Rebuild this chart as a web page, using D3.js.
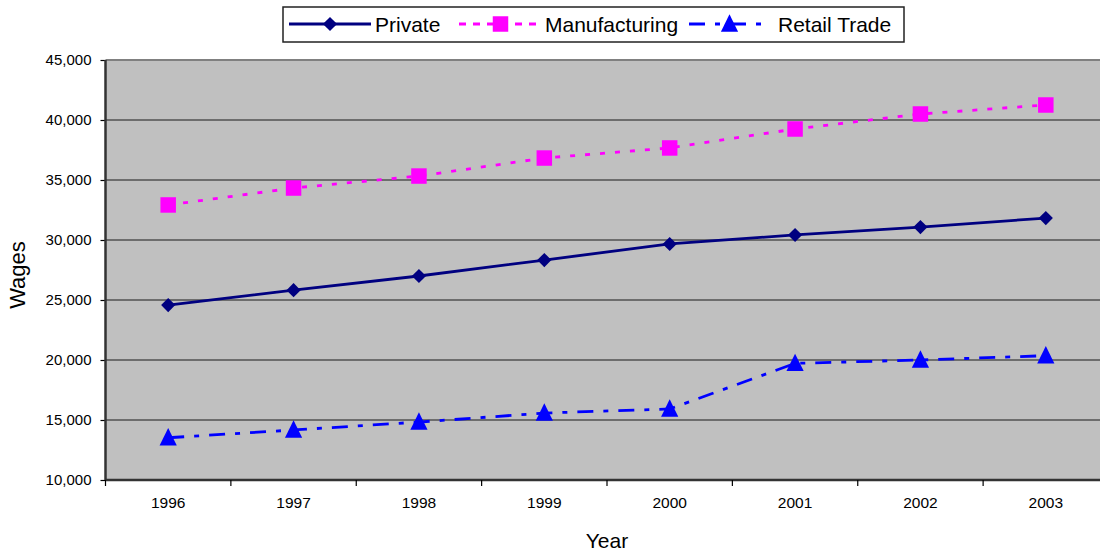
<!DOCTYPE html>
<html>
<head>
<meta charset="utf-8">
<script src="https://cdn.jsdelivr.net/npm/d3@7"></script>
<style>
  html, body { margin: 0; padding: 0; background: #fff; }
  svg { display: block; font-family: "Liberation Sans", Arial, sans-serif; }
</style>
</head>
<body>
<svg id="chart" width="1100" height="552"></svg>
<script>
// Average annual wages by sector
const years = ["1996", "1997", "1998", "1999", "2000", "2001", "2002", "2003"];
const privateWages = [24580, 25820, 27000, 28330, 29670, 30420, 31080, 31830];
const manufacturingWages = [32920, 34330, 35330, 36830, 37670, 39250, 40500, 41250];
const retailWages = [13520, 14170, 14830, 15580, 15920, 19720, 20000, 20360];
const yTicks = [10000, 15000, 20000, 25000, 30000, 35000, 40000, 45000];
const seriesNames = ["Private", "Manufacturing", "Retail Trade"];

const series = [
  { name: seriesNames[0], values: privateWages, color: "#000080", dash: null, marker: "diamond" },
  { name: seriesNames[1], values: manufacturingWages, color: "#FF00FF", dash: "5,10", marker: "square" },
  { name: seriesNames[2], values: retailWages, color: "#0000FF", dash: "16,10,5,10", marker: "triangle" }
];

const svg = d3.select("#chart");
const plot = { left: 105.5, right: 1108.5, top: 60, bottom: 480 };

const x = d3.scaleBand().domain(years).range([plot.left, plot.right]);
const y = d3.scaleLinear().domain([10000, 45000]).range([plot.bottom, plot.top]);

// plot background
svg.append("rect")
  .attr("x", plot.left).attr("y", plot.top)
  .attr("width", plot.right - plot.left).attr("height", plot.bottom - plot.top)
  .attr("fill", "#C0C0C0");

// horizontal gridlines
svg.append("g").selectAll("line")
  .data(yTicks.slice(1))
  .join("line")
  .attr("x1", plot.left).attr("x2", plot.right)
  .attr("y1", d => y(d)).attr("y2", d => y(d))
  .attr("stroke", d => d === 45000 ? "#808080" : "#1a1a1a")
  .attr("stroke-width", d => d === 45000 ? 2 : 1.2);

// y axis
const yAxis = d3.axisLeft(y).tickValues(yTicks).tickSize(5).tickPadding(9)
  .tickFormat(d3.format(","));
const gy = svg.append("g").attr("transform", `translate(${plot.left},0)`).call(yAxis);
gy.select(".domain").remove();
gy.selectAll(".tick line").attr("stroke", "#000").attr("stroke-width", 1.2);
gy.selectAll(".tick text").attr("font-size", 15).attr("fill", "#000")
  .attr("font-family", "Liberation Sans, Arial, sans-serif");
svg.append("line")
  .attr("x1", plot.left).attr("x2", plot.left)
  .attr("y1", plot.top).attr("y2", plot.bottom)
  .attr("stroke", "#333").attr("stroke-width", 2.5);

// x axis: category labels centred, ticks between categories
const gx = svg.append("g").attr("transform", `translate(0,${plot.bottom})`);
gx.append("line")
  .attr("x1", plot.left).attr("x2", plot.right)
  .attr("y1", 0).attr("y2", 0)
  .attr("stroke", "#333").attr("stroke-width", 2.5);
gx.selectAll("line.tick")
  .data(years)
  .join("line").attr("class", "tick")
  .attr("x1", d => x(d)).attr("x2", d => x(d))
  .attr("y1", 0).attr("y2", 6)
  .attr("stroke", "#000").attr("stroke-width", 1.2);
gx.selectAll("text")
  .data(years)
  .join("text")
  .attr("x", d => x(d) + x.bandwidth() / 2)
  .attr("y", 28)
  .attr("text-anchor", "middle")
  .attr("font-size", 15.5)
  .text(d => d);

// axis titles
svg.append("text")
  .attr("x", 607).attr("y", 548)
  .attr("text-anchor", "middle").attr("font-size", 21)
  .text("Year");
svg.append("text")
  .attr("transform", "translate(25,275) rotate(-90)")
  .attr("text-anchor", "middle").attr("font-size", 22)
  .text("Wages");

// marker shapes
const triangleType = {
  draw(ctx) {
    ctx.moveTo(0, -9.7);
    ctx.lineTo(8.6, 7.7);
    ctx.lineTo(-8.6, 7.7);
    ctx.closePath();
  }
};
const markerPath = {
  diamond: d3.symbol().type(d3.symbolDiamond2).size(128)(),
  square: d3.symbol().type(d3.symbolSquare).size(240)(),
  triangle: d3.symbol().type(triangleType)()
};
function drawMarker(g, kind, cx, cy, color) {
  g.append("path")
    .attr("d", markerPath[kind])
    .attr("transform", `translate(${cx},${cy})`)
    .attr("fill", color);
}

const line = d3.line()
  .x((d, i) => x(years[i]) + x.bandwidth() / 2)
  .y(d => y(d));

series.forEach(s => {
  const g = svg.append("g");
  g.append("path")
    .attr("d", line(s.values))
    .attr("fill", "none")
    .attr("stroke", s.color)
    .attr("stroke-width", 2.8)
    .attr("stroke-dasharray", s.dash);
  s.values.forEach((v, i) => drawMarker(g, s.marker, x(years[i]) + x.bandwidth() / 2, y(v), s.color));
});

// legend
const legend = svg.append("g");
legend.append("rect")
  .attr("x", 283).attr("y", 7).attr("width", 621).attr("height", 35)
  .attr("fill", "#fff").attr("stroke", "#222").attr("stroke-width", 1.5);
const legendItems = [
  { s: series[0], x0: 289, x1: 371, tx: 375, dash: null },
  { s: series[1], x0: 459, x1: 542, tx: 545, dash: "7,7" },
  { s: series[2], x0: 689, x1: 770, tx: 778, dash: "16,10,5,10" }
];
legendItems.forEach(it => {
  legend.append("line")
    .attr("x1", it.x0).attr("x2", it.x1).attr("y1", 24).attr("y2", 24)
    .attr("stroke", it.s.color).attr("stroke-width", 2.8)
    .attr("stroke-dasharray", it.dash);
  drawMarker(legend, it.s.marker, (it.x0 + it.x1) / 2, 24, it.s.color);
  legend.append("text")
    .attr("x", it.tx).attr("y", 31.5)
    .attr("font-size", 21)
    .text(it.s.name);
});
</script>
</body>
</html>
